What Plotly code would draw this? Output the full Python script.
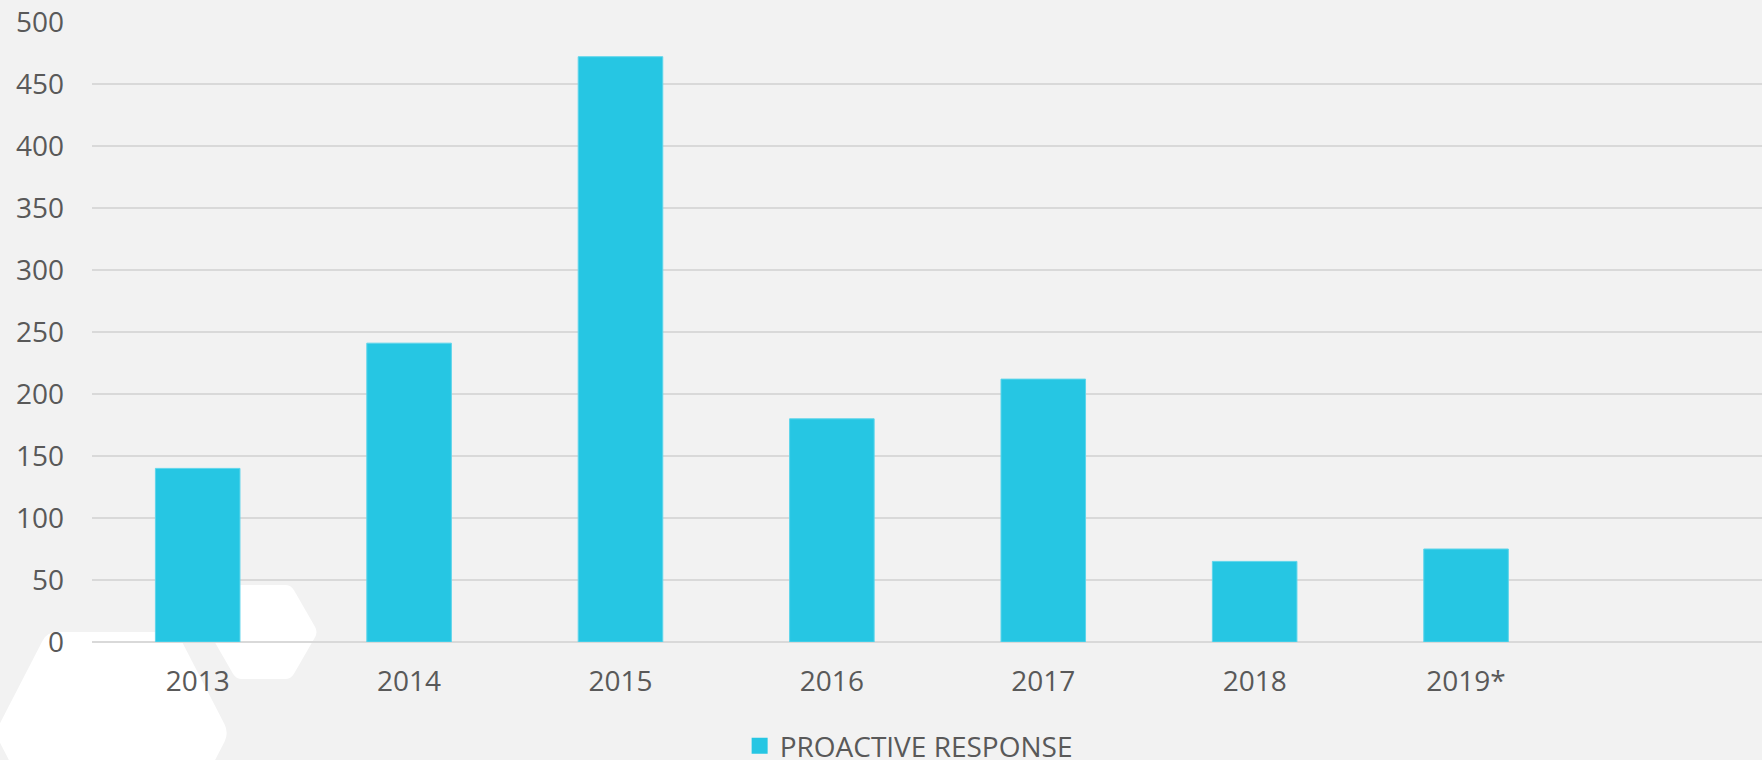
import plotly.graph_objects as go

# data
years = ["2013", "2014", "2015", "2016", "2017", "2018", "2019*"]
proactive = [140, 241, 472, 180, 212, 65, 75]
y_ticks = [0, 50, 100, 150, 200, 250, 300, 350, 400, 450, 500]

W, H = 1762, 760
L, R, T, B = 92, 0, 22, 118
PW, PH = W - L - R, H - T - B

TEXT = "#595959"
BAR = "#26C6E3"
FONT = "Open Sans, Segoe UI, sans-serif"


def to_paper(x, y):
    # pixel position -> paper coords of the plot area
    return (x - L) / PW, (H - B - y) / PH


def rounded_hex(pts, r=6):
    """SVG path through pixel points with the corners rounded off."""
    n = len(pts)
    segs = []
    for i in range(n):
        px, py = pts[i - 1]
        cx, cy = pts[i]
        nx, ny = pts[(i + 1) % n]

        def toward(ax, ay, bx, by):
            d = ((bx - ax) ** 2 + (by - ay) ** 2) ** 0.5
            k = min(r, d / 2) / d
            return ax + (bx - ax) * k, ay + (by - ay) * k

        a = to_paper(*toward(cx, cy, px, py))
        b = to_paper(*toward(cx, cy, nx, ny))
        c = to_paper(cx, cy)
        segs.append((a, c, b))
    path = "M{:.5f},{:.5f}".format(*segs[0][0])
    for a, c, b in segs:
        path += " L{:.5f},{:.5f} Q{:.5f},{:.5f} {:.5f},{:.5f}".format(*a, *c, *b)
    return path + " Z"


big_hex = [(47, 632), (177, 632), (229, 733), (177, 834), (47, 834), (-5, 733)]
small_hex = [(209, 632), (236, 585), (291, 585), (318, 632), (291, 679), (236, 679)]

fig = go.Figure()
fig.add_trace(go.Bar(
    x=years, y=proactive, name="PROACTIVE RESPONSE",
    marker=dict(color=BAR, line=dict(color="#5ED5EB", width=1)),
    width=0.4, showlegend=False, legendgroup="p",
))
# legend entry only, so the swatch can be as big as in the original
fig.add_trace(go.Scatter(
    x=[None], y=[None], mode="markers", name="PROACTIVE RESPONSE",
    marker=dict(symbol="square", size=18, color=BAR),
    legendgroup="p",
))

for pts, rad in ((big_hex, 10), (small_hex, 6)):
    fig.add_shape(type="path", path=rounded_hex(pts, rad),
                  xref="paper", yref="paper", layer="below",
                  fillcolor="#FFFFFF", line=dict(width=0))

fig.update_layout(
    width=W, height=H,
    margin=dict(l=L, r=R, t=T, b=B, autoexpand=False),
    paper_bgcolor="#F2F2F2",
    plot_bgcolor="rgba(0,0,0,0)",
    font=dict(family=FONT, size=28, color=TEXT),
    showlegend=True,
    legend=dict(orientation="h", x=0.489, xanchor="center",
                y=-0.168, yanchor="middle", itemsizing="trace",
                font=dict(size=28, color=TEXT),
                bgcolor="rgba(0,0,0,0)"),
)
fig.update_xaxes(
    type="category", range=[-0.5, 7.4], automargin=False,
    showgrid=False, zeroline=False, showline=False,
    ticks="", ticklabelstandoff=20,
    tickfont=dict(size=28, color=TEXT),
)
fig.update_yaxes(
    range=[0, 500], tickvals=y_ticks, automargin=False,
    showgrid=True, gridcolor="#D9D9D9", gridwidth=1.5,
    zeroline=True, zerolinecolor="#D9D9D9", zerolinewidth=1.5,
    showline=False, ticks="", ticklabelstandoff=27,
    tickfont=dict(size=28, color=TEXT),
)

fig.write_html(
    "out.html",
    config={"displayModeBar": False},
    post_script="document.body.style.margin='0';"
                "document.body.style.overflow='hidden';",
)
